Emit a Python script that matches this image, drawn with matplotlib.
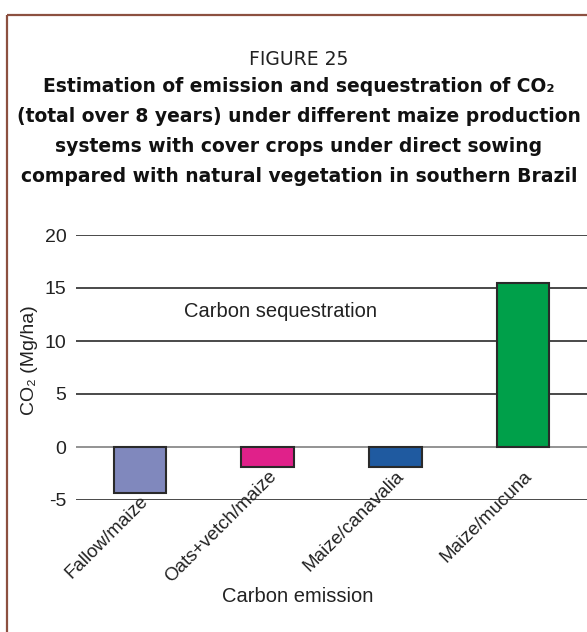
import matplotlib
matplotlib.use("Agg")
import matplotlib.pyplot as plt
from matplotlib.lines import Line2D

# data
systems = ["Fallow/maize", "Oats+vetch/maize", "Maize/canavalia", "Maize/mucuna"]
co2_values = [-4.3, -1.9, -1.9, 15.5]
bar_colors = ["#8088bd", "#e0218a", "#1f5aa0", "#00a04a"]
y_ticks = [-5, 0, 5, 10, 15, 20]

title_head = "FIGURE 25"
title_lines = [
    "Estimation of emission and sequestration of CO\u2082",
    "(total over 8 years) under different maize production",
    "systems with cover crops under direct sowing",
    "compared with natural vegetation in southern Brazil",
]

narrow = ["Liberation Sans", "DejaVu Sans"]
title_font = ["DejaVu Sans"]

W, H = 587, 632
fig = plt.figure(figsize=(W / 100, H / 100), dpi=100)

# brown frame (top and left edges visible)
frame_col = "#8c5040"
fig.add_artist(Line2D([7 / W, 7 / W], [0, 1 - 15 / H], color=frame_col, lw=1.6,
                      transform=fig.transFigure, solid_capstyle="butt"))
fig.add_artist(Line2D([7 / W, 1], [1 - 15 / H, 1 - 15 / H], color=frame_col, lw=1.6,
                      transform=fig.transFigure, solid_capstyle="butt"))

# title (baselines)
cx = 299 / W
fig.text(cx, 1 - 65 / H, title_head, ha="center", va="baseline", fontsize=13.5,
         family=title_font, color="#222222")
for i, line in enumerate(title_lines):
    fig.text(cx, 1 - (92 + 30 * i) / H, line, ha="center", va="baseline",
             fontsize=13.5, fontweight="bold", family=title_font, color="#111111")

# plot area
ax = fig.add_axes([76 / W, (H - 500) / H, (W - 76) / W, (500 - 235) / H])
ax.set_xlim(-0.5, 3.5)
ax.set_ylim(-5, 20)
for s in ax.spines.values():
    s.set_visible(False)
ax.set_xticks([])
ax.set_yticks(y_ticks)
ax.set_yticklabels([str(t) for t in y_ticks], family=narrow, fontsize=14, color="#222222")
ax.tick_params(axis="y", length=0, pad=7)

for t in y_ticks:
    if t == 0:
        ax.axhline(t, color="#8a8a8a", lw=1.3, zorder=1)
    else:
        ax.axhline(t, color="#2a2a2a", lw=1.2, zorder=1)

x = list(range(len(systems)))
ax.bar(x, co2_values, width=0.41, color=bar_colors, edgecolor="#2a2a2a",
       linewidth=1.5, zorder=3)

# rotated category labels under the bars
for i, (name, v) in enumerate(zip(systems, co2_values)):
    ax.text(i + 0.0, min(v, -1.9) - 0.05, name, rotation=45, rotation_mode="anchor",
            ha="right", va="top", family=narrow, fontsize=13.5, color="#222222",
            clip_on=False)

ax.text(1.1, 12.75, "Carbon sequestration", ha="center", va="center",
        family=narrow, fontsize=14.5, color="#222222")
fig.text(298 / W, 1 - 596 / H, "Carbon emission", ha="center", va="center",
         family=narrow, fontsize=14.5, color="#222222")

fig.text(30 / W, 1 - 360 / H, "CO\u2082 (Mg/ha)", rotation=90, ha="center", va="center",
         family=narrow, fontsize=14, color="#222222")

fig.savefig("out.png", dpi=100)
